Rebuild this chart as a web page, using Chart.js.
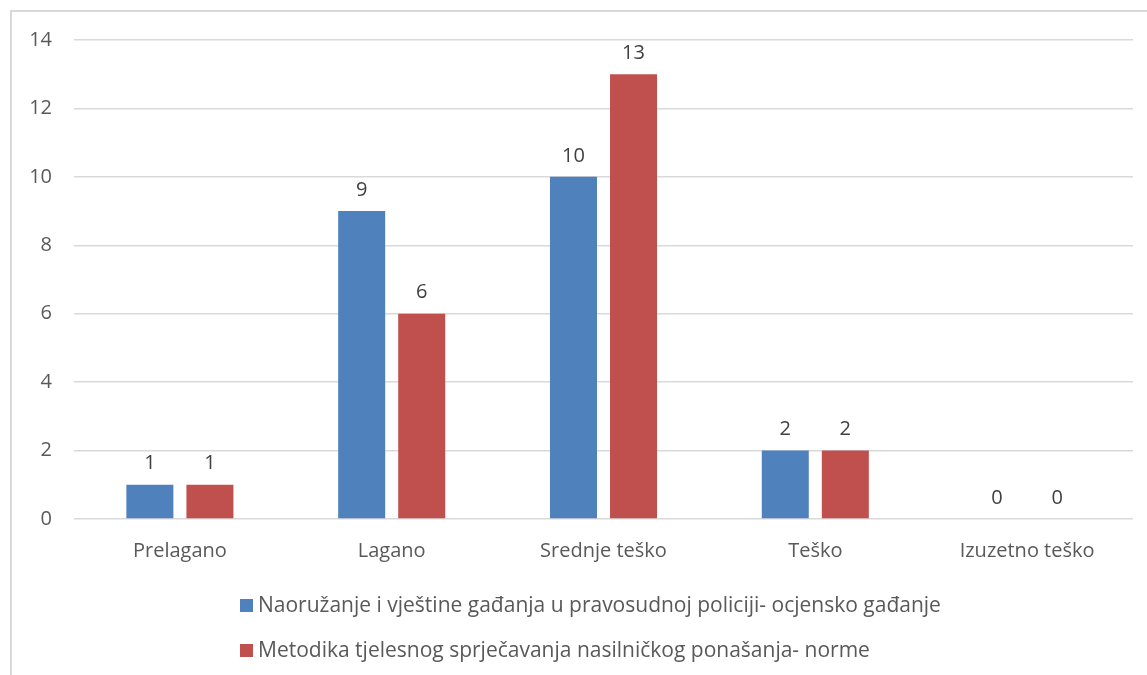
<!DOCTYPE html>
<html>
<head>
<meta charset="utf-8">
<script src="https://cdn.jsdelivr.net/npm/chart.js@4.4.0/dist/chart.umd.min.js"></script>
<style>
  body { margin: 0; background: #fff; }
  #wrap { position: relative; width: 1147px; height: 675px; overflow: hidden; }
  #frame { position: absolute; left: 10px; top: 10px; width: 1200px; height: 700px; border: 2px solid #d9d9d9; box-sizing: border-box; }
  #myBarChart { position: absolute; left: 0; top: 0; }
  .legend { position: absolute; left: 240px; font-family: "Open Sans", sans-serif; font-size: 21px; color: #595959; white-space: nowrap; line-height: 24px; }
  .legend span.box { display: inline-block; width: 13px; height: 13px; margin-right: 5px; vertical-align: 0px; }
</style>
</head>
<body>
<div id="wrap">
  <div id="frame"></div>
  <canvas id="myBarChart" width="1147" height="675"></canvas>
  <div class="legend" id="leg0" style="top:592px"></div>
  <div class="legend" id="leg1" style="top:637px"></div>
</div>
<script>
const categories = ["Prelagano", "Lagano", "Srednje teško", "Teško", "Izuzetno teško"];
const seriesNames = [
  "Naoružanje i vještine gađanja u pravosudnoj policiji- ocjensko gađanje",
  "Metodika tjelesnog sprječavanja nasilničkog ponašanja- norme"
];
const naoruzanje = [1, 9, 10, 2, 0];
const metodika = [1, 6, 13, 2, 0];
const colors = ["#4F81BD", "#C0504D"];

// legend
seriesNames.forEach(function (name, i) {
  const el = document.getElementById("leg" + i);
  el.innerHTML = '<span class="box" style="background:' + colors[i] + '"></span>' + name;
});

const valueLabels = {
  id: "valueLabels",
  afterDatasetsDraw: function (chart) {
    const ctx = chart.ctx;
    ctx.save();
    ctx.font = "20px 'Open Sans', sans-serif";
    ctx.fillStyle = "#404040";
    ctx.textAlign = "center";
    ctx.textBaseline = "bottom";
    chart.data.datasets.forEach(function (ds, i) {
      chart.getDatasetMeta(i).data.forEach(function (bar, j) {
        ctx.fillText(ds.data[j], bar.x, bar.y - 11);
      });
    });
    ctx.restore();
  }
};

var ctx = document.getElementById("myBarChart").getContext("2d");
var myBarChart = new Chart(ctx, {
  type: "bar",
  data: {
    labels: categories,
    datasets: [
      {
        label: seriesNames[0],
        data: naoruzanje,
        backgroundColor: colors[0],
        categoryPercentage: 0.567,
        barPercentage: 0.783,
      },
      {
        label: seriesNames[1],
        data: metodika,
        backgroundColor: colors[1],
        categoryPercentage: 0.567,
        barPercentage: 0.783,
      },
    ],
  },
  options: {
    responsive: false,
    animation: false,
    layout: { padding: { left: 0, right: 14, top: 40, bottom: 0 } },
    plugins: {
      legend: { display: false },
      tooltip: { enabled: false },
    },
    scales: {
      x: {
        grid: { display: false },
        border: { display: false },
        ticks: {
          color: "#595959",
          font: { family: "Open Sans", size: 20 },
          padding: 12,
        },
        afterFit: function (scale) { scale.height = 156; },
      },
      y: {
        min: 0,
        max: 14,
        ticks: {
          stepSize: 2,
          color: "#595959",
          font: { family: "Open Sans", size: 20 },
          padding: 22,
        },
        grid: { color: "#d9d9d9", lineWidth: 1.5, drawTicks: false },
        border: { display: false },
        afterFit: function (scale) { scale.width = 74; },
      },
    },
  },
  plugins: [valueLabels],
});
</script>
</body>
</html>
